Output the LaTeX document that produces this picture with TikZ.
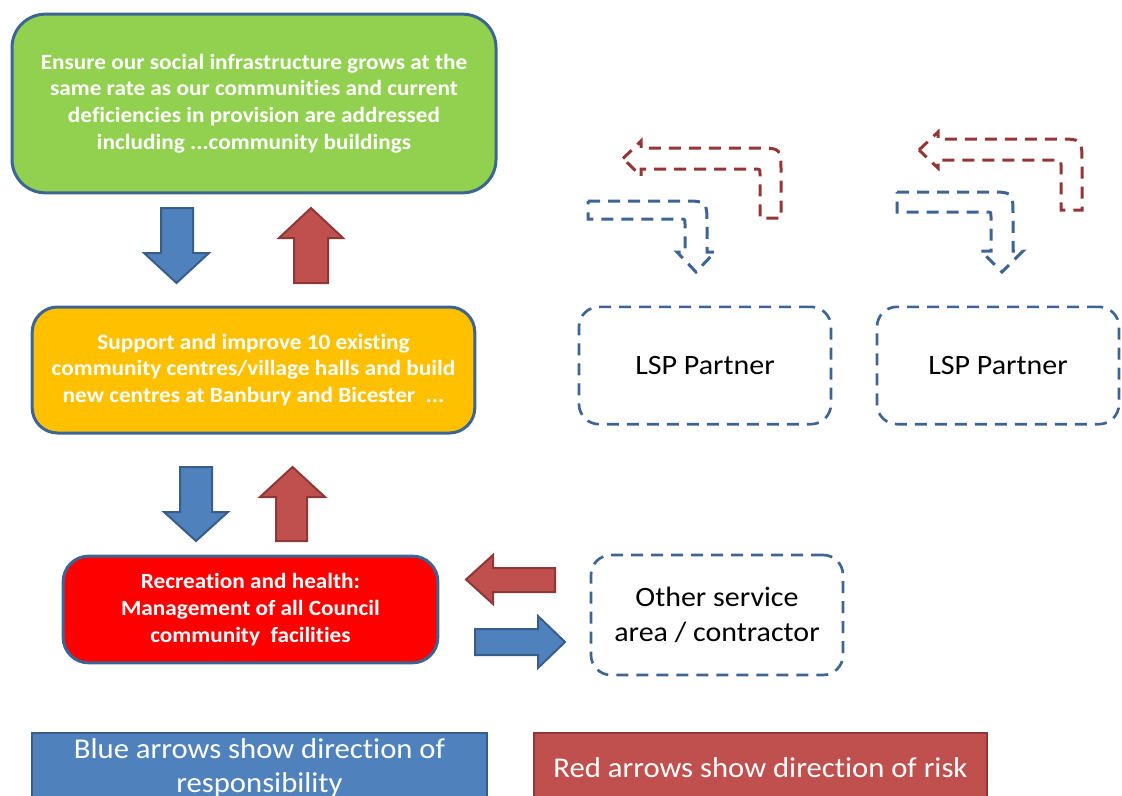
\documentclass[tikz,border=0pt]{standalone}
\usepackage{fontspec}
\setmainfont{Carlito}[FakeStretch=1.07, Ligatures=NoCommon]
\usepackage{tikz}
\usetikzlibrary{positioning,calc}

\definecolor{goalgreen}{HTML}{92D050}
\definecolor{actionorange}{HTML}{FFC000}
\definecolor{servicered}{HTML}{FF0000}
\definecolor{boxline}{HTML}{3D6594}
\definecolor{respblue}{HTML}{4F81BD}
\definecolor{respedge}{HTML}{385D8A}
\definecolor{riskred}{HTML}{C0504D}
\definecolor{riskedge}{HTML}{8C3836}
\definecolor{dashblue}{HTML}{3E6494}
\definecolor{dashred}{HTML}{943634}

\tikzset{
  planbox/.style={draw=boxline, line width=2.25pt, align=center, text=white,
    font=\bfseries\fontsize{16.3}{20}\selectfont},
  partnerbox/.style={draw=boxline, line width=2pt, dash pattern=on 9pt off 6pt,
    rounded corners=15pt, fill=white, align=center,
    font=\fontsize{21}{26}\selectfont},
  legendbox/.style={line width=1.5pt, align=center, text=white,
    font=\fontsize{21.5}{26}\selectfont},
  resp/.style={fill=respblue, draw=respedge, line width=1.5pt, line join=miter},
  risk/.style={fill=riskred, draw=riskedge, line width=1.5pt, line join=miter},
  respdash/.style={draw=dashblue, line width=2.25pt, dash pattern=on 9pt off 6pt},
  riskdash/.style={draw=dashred, line width=2.25pt, dash pattern=on 9pt off 6pt},
}

\begin{document}
\begin{tikzpicture}[x=0.75pt, y=-0.75pt]
    \useasboundingbox (0,0) rectangle (1122,796);

    % The three planning levels
    \node[planbox, fill=goalgreen, rounded corners=25pt,
      minimum width=363pt, minimum height=134pt] (goal) at (254,103.5)
      {Ensure our social infrastructure grows at the\\
       same rate as our communities and current\\
       deficiencies in provision are addressed\\
       including ...community buildings};
    \node[planbox, fill=actionorange, rounded corners=19pt,
      minimum width=332pt, minimum height=94.5pt] (action) at (253.5,370)
      {Support and improve 10 existing\\
       community centres/village halls and build\\
       new centres at Banbury and Bicester \ ...};
    \node[planbox, fill=servicered, rounded corners=19pt,
      minimum width=281pt, minimum height=80pt] (service) at (250.5,609.5)
      {Recreation and health:\\
       Management of all Council\\
       community \ facilities};

    % Partners
    \node[partnerbox, minimum width=189pt, minimum height=88pt]
      (lspA) at (705,365.5) {LSP Partner};
    \node[partnerbox, minimum width=181.5pt, minimum height=88pt]
      (lspB) at (998,365.5) {LSP Partner};
    \node[partnerbox, minimum width=189pt, minimum height=90pt]
      (other) at (717,615) {Other service\\area / contractor};

    % Block arrows between the levels
    \draw[resp] (161,208) -- (193,208) -- (193,253) -- (209,253)
      -- (176.5,283) -- (144,253) -- (161,253) -- cycle;
    \draw[risk] (311,208) -- (343,238) -- (328,238) -- (328,283)
      -- (294,283) -- (294,238) -- (279,238) -- cycle;
    \draw[resp] (180,467) -- (212,467) -- (212,512) -- (228,512)
      -- (196,541) -- (164,512) -- (180,512) -- cycle;
    \draw[risk] (292.5,467) -- (325,497) -- (307,497) -- (307,541)
      -- (276,541) -- (276,497) -- (260,497) -- cycle;

    % Arrows to and from the contractor
    \draw[risk] (466,579.5) -- (493,555) -- (493,568) -- (555,568)
      -- (555,592) -- (493,592) -- (493,604) -- cycle;
    \draw[resp] (475,629) -- (538,629) -- (538,616) -- (565,642)
      -- (538,668) -- (538,655) -- (475,655) -- cycle;

    % Bent dashed arrows above the partners
    \draw[riskdash] (623,158.5) -- (641,141) -- (641,148) -- (757,148)
      .. controls (781,148) .. (781,172) -- (781,218) -- (760,218)
      -- (760,174) .. controls (760,169) .. (755,169) -- (641,169)
      -- (641,176) -- cycle;
    \draw[respdash] (588,201) -- (683,201) .. controls (707,201) .. (707,225)
      -- (707,252) -- (715,252) -- (696,272) -- (677,252) -- (685,252)
      -- (685,224) .. controls (685,219) .. (680,219) -- (588,219) -- cycle;
    \draw[riskdash] (919,150) -- (938,132) -- (938,139) -- (1058,139)
      .. controls (1082,139) .. (1082,163) -- (1082,210) -- (1061,210)
      -- (1061,165) .. controls (1061,160) .. (1056,160) -- (938,160)
      -- (938,168) -- cycle;
    \draw[respdash] (897,192) -- (989,192) .. controls (1013,192) .. (1013,216)
      -- (1013,251) -- (1023,251) -- (1002,272) -- (981,251) -- (991,251)
      -- (991,217) .. controls (991,212) .. (986,212) -- (897,212) -- cycle;

    % Legend
    \node[legendbox, fill=respblue, draw=respedge,
      minimum width=341pt, minimum height=52pt] (keyresp) at (259.5,768)
      {Blue arrows show direction of\\responsibility};
    \node[legendbox, fill=riskred, draw=riskedge,
      minimum width=340pt, minimum height=52pt] (keyrisk) at (760.5,768)
      {Red arrows show direction of risk};
\end{tikzpicture}
\end{document}
